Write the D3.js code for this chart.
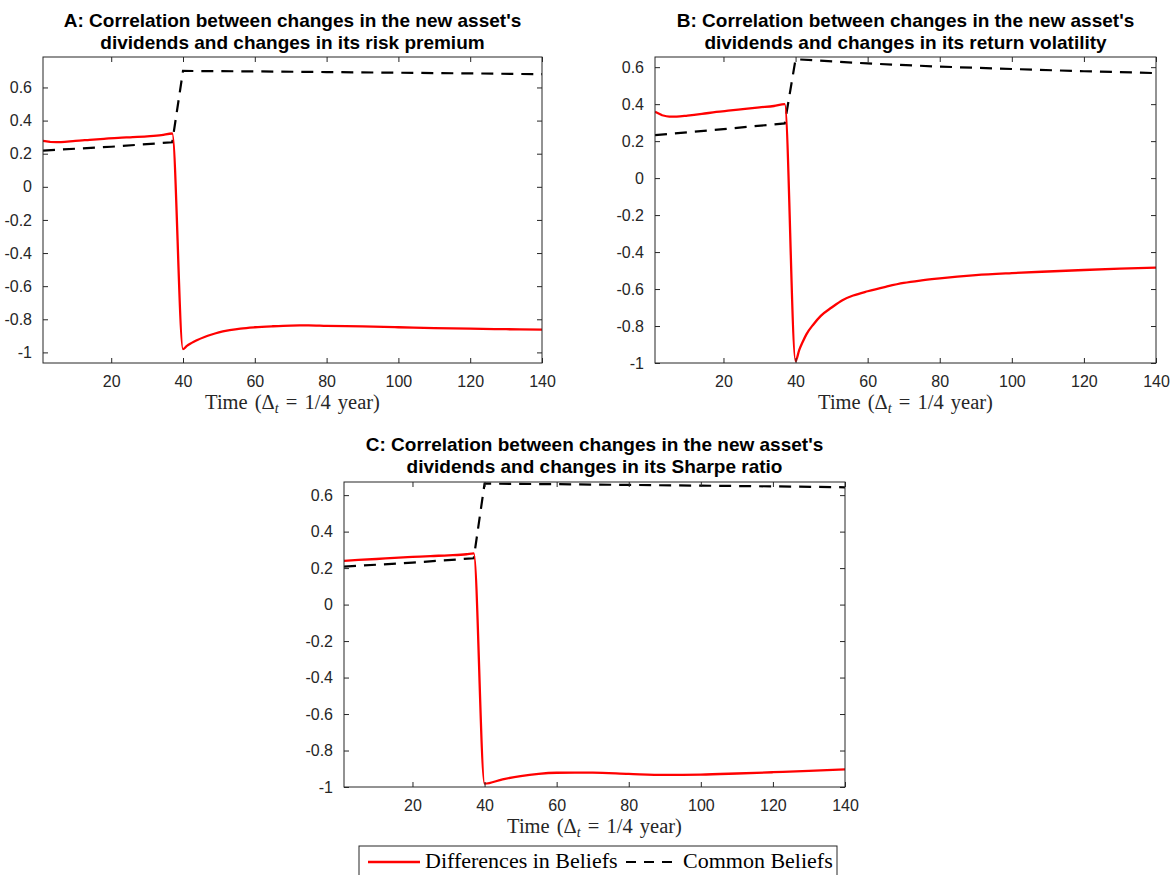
<!DOCTYPE html>
<html>
<head>
<meta charset="utf-8">
<script src="https://cdn.jsdelivr.net/npm/d3@7"></script>
<style>
  html, body { margin: 0; padding: 0; background: #fff; }
  svg { display: block; }
</style>
</head>
<body>
<svg id="fig" width="1170" height="875"></svg>
<script>
// ---- shared ticks ----
const xTicks = [20, 40, 60, 80, 100, 120, 140];
const yTicks = [-1, -0.8, -0.6, -0.4, -0.2, 0, 0.2, 0.4, 0.6];
const timeDomain = [1, 140];

// ---- Panel A: risk premium ----
const tDiffA = [1, 3, 6, 10, 14, 18, 22, 26, 30, 34, 37, 40, 41, 42, 43, 44, 46, 48, 50, 53, 56, 60, 65, 70, 75, 80, 90, 100, 110, 120, 130, 140];
const diffA  = [0.277, 0.272, 0.270, 0.278, 0.284, 0.290, 0.296, 0.300, 0.305, 0.312, 0.322, -0.980, -0.962, -0.948, -0.936, -0.925, -0.907, -0.892, -0.879, -0.866, -0.856, -0.848, -0.842, -0.838, -0.837, -0.840, -0.843, -0.848, -0.853, -0.857, -0.860, -0.862];
const tCommonA = [1, 20, 37, 40, 60, 80, 100, 120, 140];
const commonA  = [0.219, 0.242, 0.269, 0.700, 0.697, 0.693, 0.689, 0.685, 0.680];

// ---- Panel B: return volatility ----
const tDiffB = [1, 3, 5, 7, 10, 14, 18, 22, 26, 30, 34, 37, 40, 41, 42, 43, 45, 47, 50, 53, 56, 60, 65, 70, 75, 80, 90, 100, 110, 120, 130, 140];
const diffB  = [0.359, 0.340, 0.333, 0.333, 0.338, 0.347, 0.358, 0.366, 0.375, 0.383, 0.390, 0.400, -0.990, -0.930, -0.885, -0.845, -0.790, -0.745, -0.700, -0.660, -0.635, -0.612, -0.588, -0.567, -0.553, -0.542, -0.525, -0.514, -0.505, -0.497, -0.490, -0.484];
const tCommonB = [1, 20, 37, 40, 60, 80, 100, 120, 140];
const commonB  = [0.232, 0.265, 0.296, 0.643, 0.620, 0.603, 0.590, 0.578, 0.568];

// ---- Panel C: Sharpe ratio ----
const tDiffC = [1, 5, 10, 15, 20, 25, 30, 35, 37, 40, 45, 50, 55, 60, 65, 70, 80, 90, 100, 110, 120, 130, 140];
const diffC  = [0.240, 0.245, 0.250, 0.256, 0.261, 0.266, 0.270, 0.276, 0.281, -0.982, -0.958, -0.940, -0.928, -0.922, -0.921, -0.921, -0.928, -0.934, -0.932, -0.926, -0.919, -0.912, -0.903];
const tCommonC = [1, 20, 37, 40, 60, 80, 100, 120, 140];
const commonC  = [0.208, 0.230, 0.254, 0.663, 0.660, 0.656, 0.652, 0.648, 0.643];

const titlesA = ["A: Correlation between changes in the new asset's", "dividends and changes in its risk premium"];
const titlesB = ["B: Correlation between changes in the new asset's", "dividends and changes in its return volatility"];
const titlesC = ["C: Correlation between changes in the new asset's", "dividends and changes in its Sharpe ratio"];
const legendLabels = ["Differences in Beliefs", "Common Beliefs"];

const axisColor = "#262626";
const redColor = "#ff0000";
const sansFont = "'Liberation Sans', Arial, Helvetica, sans-serif";
const serifFont = "'Liberation Serif', 'Times New Roman', serif";

const svg = d3.select("#fig");
svg.append("rect").attr("width", 1170).attr("height", 875).attr("fill", "#fff");

const panels = [
  { id: "A", left: 43,  right: 542,  top: 57,  bottom: 363, yDomain: [-1.064, 0.784], titleY: 27,
    titles: titlesA, tDiff: tDiffA, diff: diffA, tCommon: tCommonA, common: commonA },
  { id: "B", left: 655, right: 1156, top: 57,  bottom: 363, yDomain: [-1.0, 0.655], titleY: 27,
    titles: titlesB, tDiff: tDiffB, diff: diffB, tCommon: tCommonB, common: commonB },
  { id: "C", left: 344, right: 845,  top: 482, bottom: 787, yDomain: [-1.0, 0.672], titleY: 451,
    titles: titlesC, tDiff: tDiffC, diff: diffC, tCommon: tCommonC, common: commonC }
];

const fmt = d => String(Math.round(d * 10) / 10);

function styleAxis(sel, showLabels) {
  sel.select(".domain").remove();
  sel.selectAll(".tick line").attr("stroke", axisColor).attr("stroke-width", 1);
  sel.selectAll(".tick text")
    .attr("fill", axisColor)
    .attr("font-family", sansFont)
    .attr("font-size", "16px");
  if (!showLabels) sel.selectAll(".tick text").remove();
}

panels.forEach(p => {
  const g = svg.append("g").attr("class", "panel-" + p.id);
  const x = d3.scaleLinear().domain(timeDomain).range([p.left, p.right]);
  const y = d3.scaleLinear().domain(p.yDomain).range([p.bottom, p.top]);

  const clipId = "clip-" + p.id;
  g.append("clipPath").attr("id", clipId)
    .append("rect")
    .attr("x", p.left).attr("y", p.top)
    .attr("width", p.right - p.left).attr("height", p.bottom - p.top);

  const linear = d3.line().x(d => x(d[0])).y(d => y(d[1]));
  const smooth = d3.line().x(d => x(d[0])).y(d => y(d[1])).curve(d3.curveMonotoneX);

  // the belief-difference series: smooth before and after the regime switch,
  // a straight drop across the switch itself
  const diffPts = p.tDiff.map((t, i) => [t, p.diff[i]]);
  const jump = diffPts.findIndex((d, i) => i > 0 && d[0] - diffPts[i - 1][0] > 1);
  const pre = diffPts.slice(0, jump);
  const post = diffPts.slice(jump);
  const diffPath = smooth(pre) + smooth(post).replace(/^M/, "L");

  const plot = g.append("g").attr("clip-path", `url(#${clipId})`);
  plot.append("path")
    .datum(p.tCommon.map((t, i) => [t, p.common[i]]))
    .attr("d", linear)
    .attr("fill", "none")
    .attr("stroke", "#000")
    .attr("stroke-width", 2.2)
    .attr("stroke-dasharray", "12,8");
  plot.append("path")
    .attr("d", diffPath)
    .attr("fill", "none")
    .attr("stroke", redColor)
    .attr("stroke-width", 2.3)
    .attr("stroke-linejoin", "round");

  // axes with inward ticks on all four sides
  g.append("g").attr("transform", `translate(0,${p.bottom})`)
    .call(d3.axisBottom(x).tickValues(xTicks).tickSize(-5).tickPadding(13).tickFormat(d => String(d)))
    .call(s => styleAxis(s, true));
  g.append("g").attr("transform", `translate(0,${p.top})`)
    .call(d3.axisTop(x).tickValues(xTicks).tickSize(-5))
    .call(s => styleAxis(s, false));
  g.append("g").attr("transform", `translate(${p.left},0)`)
    .call(d3.axisLeft(y).tickValues(yTicks).tickSize(-5).tickPadding(11).tickFormat(fmt))
    .call(s => styleAxis(s, true));
  g.append("g").attr("transform", `translate(${p.right},0)`)
    .call(d3.axisRight(y).tickValues(yTicks).tickSize(-5))
    .call(s => styleAxis(s, false));

  g.append("rect")
    .attr("x", p.left).attr("y", p.top)
    .attr("width", p.right - p.left).attr("height", p.bottom - p.top)
    .attr("fill", "none").attr("stroke", axisColor).attr("stroke-width", 1);

  // two-line bold title
  const cx = (p.left + p.right) / 2;
  p.titles.forEach((t, i) => {
    g.append("text")
      .attr("x", cx).attr("y", p.titleY + i * 22)
      .attr("text-anchor", "middle")
      .attr("font-family", sansFont)
      .attr("font-weight", "bold")
      .attr("font-size", "19px")
      .attr("fill", "#000")
      .text(t);
  });

  // x-axis label: Time (Δ_t = 1/4 year)
  const xl = g.append("text")
    .attr("x", cx).attr("y", p.bottom + 45.5)
    .attr("text-anchor", "middle")
    .attr("font-family", serifFont)
    .attr("font-size", "20.5px")
    .attr("word-spacing", "2px")
    .attr("fill", axisColor);
  xl.append("tspan").text("Time (Δ");
  xl.append("tspan").attr("font-style", "italic").attr("font-size", "14px").attr("dy", 4).text("t");
  xl.append("tspan").attr("dy", -4).text(" = 1/4 year)");
});

// ---- legend ----
const lg = svg.append("g").attr("class", "legend");
lg.append("rect")
  .attr("x", 359).attr("y", 846).attr("width", 478).attr("height", 40)
  .attr("fill", "#fff").attr("stroke", axisColor).attr("stroke-width", 1);
lg.append("line")
  .attr("x1", 368).attr("x2", 420).attr("y1", 862).attr("y2", 862)
  .attr("stroke", redColor).attr("stroke-width", 2.3);
lg.append("text")
  .attr("x", 425).attr("y", 868)
  .attr("font-family", serifFont).attr("font-size", "22px").attr("fill", "#000")
  .text(legendLabels[0]);
lg.append("line")
  .attr("x1", 626).attr("x2", 678).attr("y1", 862).attr("y2", 862)
  .attr("stroke", "#000").attr("stroke-width", 2.2).attr("stroke-dasharray", "10,8");
lg.append("text")
  .attr("x", 683).attr("y", 868)
  .attr("font-family", serifFont).attr("font-size", "22px").attr("fill", "#000")
  .text(legendLabels[1]);
</script>
</body>
</html>
